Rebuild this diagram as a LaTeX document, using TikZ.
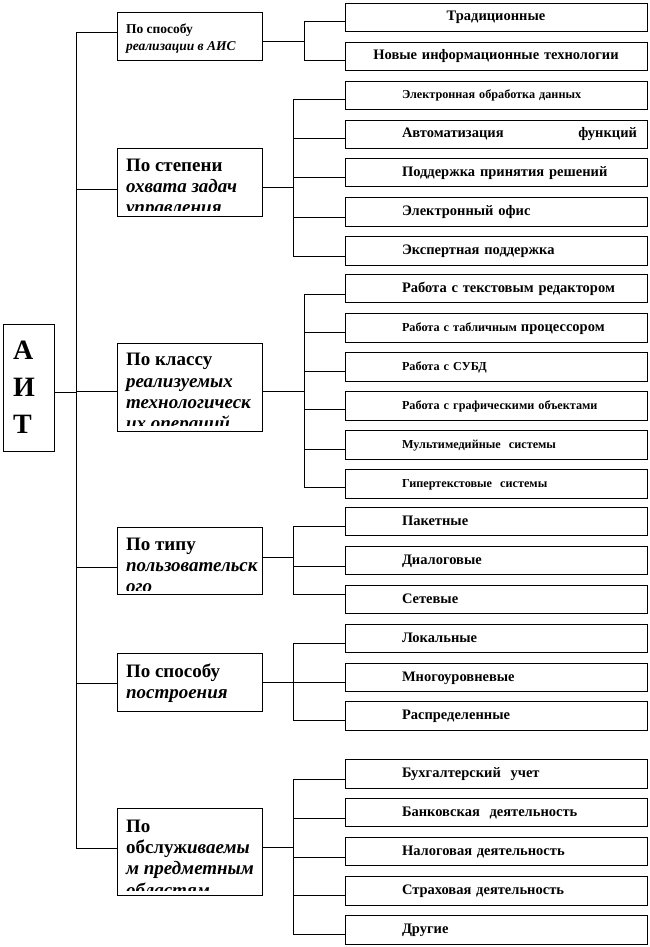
\documentclass[tikz,border=0pt]{standalone}
\usepackage{fontspec}
\setmainfont{Liberation Serif}
\usepackage{tikz}

\begin{document}
\begin{tikzpicture}[x=1pt, y=-1pt, line width=1pt,
    catbox/.style={draw, minimum width=145pt, inner sep=0pt},
    cattext/.style={anchor=north west, inner sep=0pt, align=left, font=\fontsize{19}{21.2}\selectfont\bfseries},
    leafbox/.style={draw, minimum height=28.5pt, text width=282pt, inner xsep=10pt, inner ysep=0pt,
      text height=10pt, text depth=3pt, align=center, font=\fontsize{14.5}{17}\selectfont\bfseries},
    leaf/.style={leafbox, align=left, execute at begin node={\hspace*{47pt}}},
    smallleaf/.style={leaf, font=\fontsize{12.2}{14}\selectfont\bfseries}]
  \useasboundingbox (0,0) rectangle (650,947);

  % root
  \node[draw, minimum width=51pt, minimum height=127pt, text width=31pt, inner xsep=10pt, align=left,
    font=\fontsize{28}{37}\selectfont\bfseries] (root) at (28.5,387.5) {А\\И\\Т};

  \coordinate (trunk) at (76,0);
  \coordinate (bus1) at (304,0);
  \coordinate (bus2) at (293,0);
  \coordinate (bus3) at (304,0);
  \coordinate (bus4) at (293,0);
  \coordinate (bus5) at (293,0);
  \coordinate (bus6) at (293,0);

  % categories
  \node[catbox, minimum height=48pt] (c1) at (189.5,37) {};
  \node[catbox, minimum height=68pt] (c2) at (189.5,182) {};
  \node[catbox, minimum height=88pt] (c3) at (189.5,387) {};
  \node[catbox, minimum height=67pt] (c4) at (189.5,560.5) {};
  \node[catbox, minimum height=58pt] (c5) at (189.5,682) {};
  \node[catbox, minimum height=87pt] (c6) at (189.5,851.5) {};

  % category texts, cut off at the box bottom
  \begin{scope}
    \clip (c1.north west) rectangle ([yshift=4pt]c1.south east);
    \node[cattext, font=\fontsize{13.5}{17}\selectfont\bfseries] (c1-text) at ([xshift=9pt, yshift=-10.5pt]c1.north west)
      {По способу\\ \textit{реализации в АИС}};
  \end{scope}
  \begin{scope}
    \clip (c2.north west) rectangle ([yshift=6pt]c2.south east);
    \node[cattext] (c2-text) at ([xshift=9pt, yshift=-11pt]c2.north west)
      {По степени\\ \textit{охвата задач}\\ \textit{управления}};
  \end{scope}
  \begin{scope}
    \clip (c3.north west) rectangle ([yshift=6.5pt]c3.south east);
    \node[cattext] (c3-text) at ([xshift=9pt, yshift=-10.5pt]c3.north west)
      {По классу\\ \textit{реализуемых}\\ \textit{технологическ}\\ \textit{их операций}};
  \end{scope}
  \begin{scope}
    \clip (c4.north west) rectangle ([yshift=4.5pt]c4.south east);
    \node[cattext] (c4-text) at ([xshift=9pt, yshift=-11pt]c4.north west)
      {По типу\\ \textit{пользовательск}\\ \textit{ого}};
  \end{scope}
  \begin{scope}
    \clip (c5.north west) rectangle ([yshift=5.5pt]c5.south east);
    \node[cattext] (c5-text) at ([xshift=9pt, yshift=-11pt]c5.north west)
      {По способу\\ \textit{построения}};
  \end{scope}
  \begin{scope}
    \clip (c6.north west) rectangle ([yshift=5.5pt]c6.south east);
    \node[cattext] (c6-text) at ([xshift=9pt, yshift=-12pt]c6.north west)
      {По\\ обслуж\textit{иваемы}\\ \textit{м предметным}\\ \textit{областям}};
  \end{scope}

  % leaves
  \node[leafbox] (l1) at (496,17.5) {Традиционные};
  \node[leafbox] (l2) at (496,56.5) {Новые информационные технологии};
  \node[smallleaf] (l3) at (496,95.5) {Электронная обработка данных};
  \node[leaf] (l4) at (496,134.5) {Автоматизация\hfill функций};
  \node[leaf] (l5) at (496,172.5) {Поддержка принятия решений};
  \node[leaf] (l6) at (496,212) {Электронный офис};
  \node[leaf] (l7) at (496,251) {Экспертная поддержка};
  \node[leaf] (l8) at (496,288.5) {Работа с текстовым редактором};
  \node[smallleaf] (l9) at (496,328) {Работа с табличным {\fontsize{14.5}{17}\selectfont процессором}};
  \node[smallleaf] (l10) at (496,367) {Работа с СУБД};
  \node[smallleaf] (l11) at (496,406) {Работа с графическими объектами};
  \node[smallleaf] (l12) at (496,445) {Мультимедийные\ \ системы};
  \node[smallleaf] (l13) at (496,484) {Гипертекстовые\ \ системы};
  \node[leaf] (l14) at (496,521.5) {Пакетные};
  \node[leaf] (l15) at (496,560.5) {Диалоговые};
  \node[leaf] (l16) at (496,599.5) {Сетевые};
  \node[leaf] (l17) at (496,638.5) {Локальные};
  \node[leaf] (l18) at (496,677.5) {Многоуровневые};
  \node[leaf] (l19) at (496,716) {Распределенные};
  \node[leaf] (l20) at (496,774) {Бухгалтерский\ \ учет};
  \node[leaf] (l21) at (496,812.5) {Банковская\ \ деятельность};
  \node[leaf] (l22) at (496,851.5) {Налоговая деятельность};
  \node[leaf] (l23) at (496,891) {Страховая деятельность};
  \node[leaf] (l24) at (496,930) {Другие};

  % connectors
  \coordinate (root-out) at ([yshift=-4.5pt]root.east);
  \draw (root-out) -- (root-out -| trunk);
  \foreach \c/\b/\dl/\dr in {c1/bus1/4/-5, c2/bus2/-7/-5, c3/bus3/-4/-4, c4/bus4/-6.5/3.5, c5/bus5/-1/0, c6/bus6/3.5/4.5} {
    \coordinate (\c-in) at ([yshift=\dl pt]\c.west);
    \coordinate (\c-out) at ([yshift=\dr pt]\c.east);
    \draw (\c-in -| trunk) -- (\c-in);
    \draw (\c-out) -- (\c-out -| \b);
  }
  \draw (c1-in -| trunk) -- (c6-in -| trunk);
  \foreach \l/\b/\d in {l1/bus1/-4.5, l2/bus1/-4.5, l3/bus2/-4.5, l4/bus2/-3.5, l5/bus2/-4.5, l6/bus2/-5,
      l7/bus2/-5, l8/bus3/-5.5, l9/bus3/-4, l10/bus3/-4, l11/bus3/-3, l12/bus3/-4, l13/bus3/-3,
      l14/bus4/-4.5, l15/bus4/-5.5, l16/bus4/5.5, l17/bus5/-4.5, l18/bus5/-4.5, l19/bus5/-4,
      l20/bus6/-5, l21/bus6/-5.5, l22/bus6/-5.5, l23/bus6/-4, l24/bus6/-4} {
    \coordinate (\l-in) at ([yshift=\d pt]\l.west);
    \draw (\l-in -| \b) -- (\l-in);
  }
  \draw (l1-in -| bus1) -- (l2-in -| bus1);
  \draw (l3-in -| bus2) -- (l7-in -| bus2);
  \draw (l8-in -| bus3) -- (l13-in -| bus3);
  \draw (l14-in -| bus4) -- (l16-in -| bus4);
  \draw (l17-in -| bus5) -- (l19-in -| bus5);
  \draw (l20-in -| bus6) -- (l24-in -| bus6);
\end{tikzpicture}
\end{document}
